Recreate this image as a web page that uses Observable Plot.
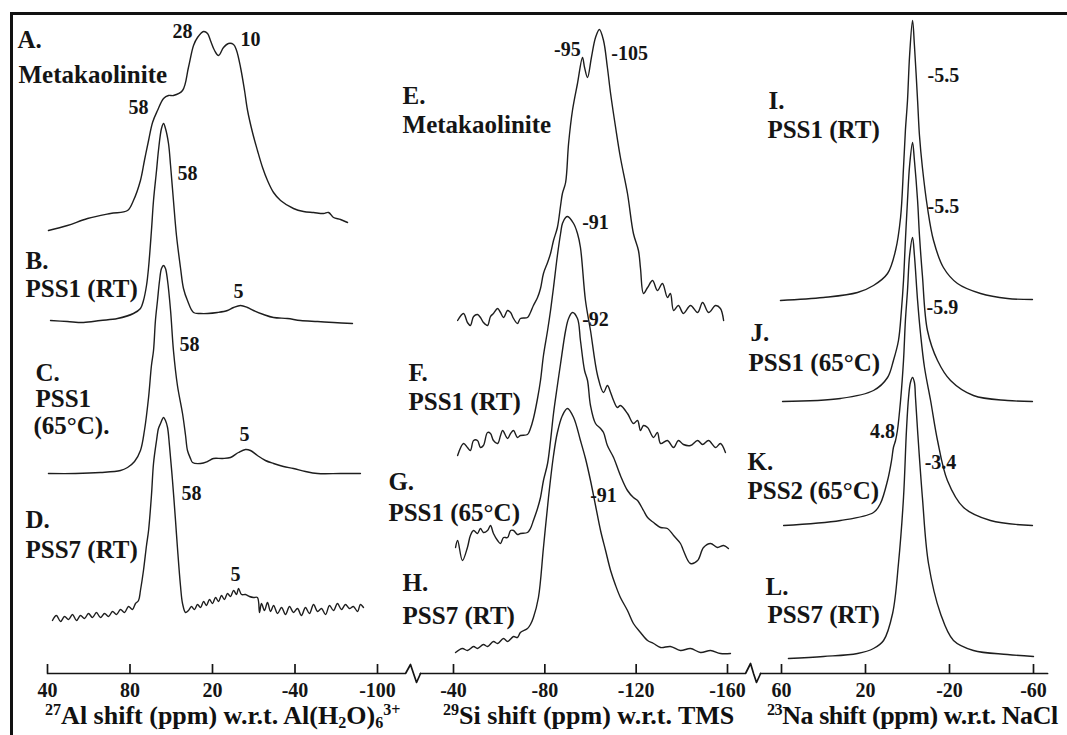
<!DOCTYPE html>
<html><head><meta charset="utf-8">
<script src="https://cdn.jsdelivr.net/npm/d3@7"></script>
<script src="https://cdn.jsdelivr.net/npm/@observablehq/plot@0.6"></script>
<style>
body{margin:0;background:#fff}
#wrap{position:relative;width:1067px;height:735px;overflow:hidden;background:#fff}
#wrap svg{position:absolute;left:0;top:0}
.frame{position:absolute;left:10px;top:12px;width:1070px;height:740px;border-top:3px solid #111;border-left:3px solid #111}
.ttl{position:absolute;font:bold 26px "Liberation Serif",serif;color:#111;white-space:nowrap;line-height:30px}
.ttl sup{font-size:62%;line-height:0;vertical-align:0.55em}
.ttl sub{font-size:62%;line-height:0;vertical-align:-0.22em}
</style></head><body><div id="wrap"></div>
<script>
// ---- tick values and labels (as printed) ----
const alTicks = [140, 80, 20, -40, -100];
const alTickLabels = ["40", "80", "20", "-40", "-100"];
const siTicks = [-40, -80, -120, -160];
const siTickLabels = ["-40", "-80", "-120", "-160"];
const naTicks = [60, 20, -20, -60];
const naTickLabels = ["60", "20", "-20", "-60"];

// ---- 27Al spectra: [ppm, intensity above own baseline] ----
const alA = [[139.3,0],[125.5,5],[110.9,12],[94.2,17],[81.8,20],[77.5,30],[72.4,50],[69.5,70],[66.5,90],[63.6,108],[60.0,120],[55.6,132],[52.0,135],[48.4,135],[41.8,140],[37.5,163],[33.8,185],[30.9,193],[26.5,199],[23.6,197],[21.5,190],[18.5,180],[15.6,175],[12.0,183],[8.4,187],[4.7,186],[2.5,180],[-0.4,163],[-3.3,140],[-5.5,120],[-9.1,98],[-12.7,80],[-16.4,63],[-20.0,50],[-24.4,38],[-29.5,30],[-38.9,22],[-46.2,19],[-53.5,18],[-60.7,17],[-64.4,18],[-68.0,13],[-73.1,11],[-78.2,8]];
const alB = [[137.8,0],[125.5,-1],[113.8,-2],[101.5,0],[89.1,2],[77.5,7],[72.4,12],[70.2,20],[68.0,35],[66.5,53],[64.4,90],[62.9,120],[60.7,150],[59.3,170],[57.1,192],[55.6,197],[54.2,192],[52.0,177],[50.5,155],[48.4,120],[46.2,85],[43.3,53],[41.1,32],[38.2,20],[33.8,8],[28.7,7],[23.6,7],[16.4,8],[9.1,10],[4.7,13],[-0.4,15],[-5.5,13],[-9.8,10],[-17.1,6],[-24.4,3],[-34.5,2],[-44.0,0],[-56.4,-1],[-68.0,-2],[-81.8,-3]];
const alC = [[139.3,0],[119.6,0],[101.5,1],[86.9,3],[81.8,6],[76.7,12],[72.4,23],[69.5,43],[66.5,76],[64.4,108],[62.9,123],[61.5,153],[60.0,173],[58.5,193],[57.1,205],[55.6,208],[54.2,205],[52.7,193],[50.5,163],[48.4,123],[45.5,88],[41.8,60],[39.6,38],[38.2,23],[36.0,15],[34.5,11],[28.7,10],[23.6,12],[19.3,15],[12.7,15],[6.9,16],[1.1,21],[-4.0,24],[-7.6,23],[-12.7,18],[-18.5,13],[-24.4,10],[-31.6,7],[-38.9,5],[-47.6,2],[-56.4,0],[-73.1,0],[-87.6,0]];
const alD = [[136.4,-3],[133.5,2],[130.5,-4],[127.6,1],[124.7,-2],[121.8,3],[118.9,-3],[116.0,2],[113.1,-1],[110.2,4],[107.3,0],[104.4,5],[101.5,0],[98.5,4],[95.6,1],[92.7,6],[89.8,3],[86.9,8],[84.0,5],[81.1,11],[78.2,8],[76.0,14],[73.8,17],[72.4,27],[70.2,47],[68.0,72],[66.5,87],[64.4,122],[62.9,154],[60.7,177],[59.3,189],[57.8,194],[55.6,200],[54.2,197],[52.7,190],[51.3,172],[49.1,137],[46.9,97],[45.5,70],[43.3,32],[41.8,14],[39.6,5],[37.5,7],[35.3,11],[33.1,8],[30.9,13],[28.7,10],[26.5,16],[24.4,12],[22.2,18],[20.0,14],[17.8,20],[15.6,16],[13.5,22],[11.3,18],[9.1,24],[6.9,21],[4.7,27],[2.5,23],[1.1,29],[-1.1,23],[-4.0,23],[-6.9,21],[-9.8,20],[-12.7,20],[-14.2,5],[-15.6,14],[-17.8,7],[-20.0,15],[-22.2,6],[-24.4,12],[-27.3,4],[-30.2,10],[-33.1,3],[-36.0,11],[-38.9,5],[-41.8,9],[-44.7,2],[-47.6,10],[-50.5,4],[-53.5,13],[-56.4,6],[-59.3,9],[-62.2,3],[-65.1,12],[-68.0,7],[-70.9,14],[-73.8,8],[-76.7,13],[-79.6,9],[-82.5,11],[-85.5,6],[-87.6,13],[-89.8,10]];

// ---- 29Si spectra ----
const siE = [[-41.8,0],[-44.4,7],[-46.1,-2],[-47.4,-5],[-48.8,4],[-50.5,6],[-51.8,3],[-53.1,-2],[-54.9,-5],[-56.2,4],[-57.5,7],[-59.3,12],[-60.6,8],[-61.9,3],[-63.7,10],[-65.0,8],[-66.3,2],[-68.0,-3],[-69.3,2],[-72.4,3],[-73.7,8],[-75.0,15],[-76.8,23],[-78.1,32],[-79.4,47],[-81.2,58],[-82.5,67],[-83.8,80],[-85.5,93],[-86.9,115],[-87.7,127],[-89.1,138],[-90.4,177],[-92.1,210],[-94.3,237],[-96.5,263],[-97.4,253],[-98.7,243],[-100.4,263],[-102.2,283],[-103.9,291],[-105.7,280],[-107.4,253],[-108.8,227],[-111.0,193],[-113.1,163],[-116.2,127],[-118.8,87],[-121.0,70],[-121.9,52],[-123.2,27],[-125.0,33],[-127.2,40],[-129.3,30],[-131.5,37],[-133.7,23],[-135.0,27],[-136.4,10],[-138.5,15],[-140.7,7],[-143.8,15],[-146.9,8],[-149.1,18],[-151.7,8],[-154.8,15],[-156.9,12],[-158.3,0]];
const siF = [[-41.8,-10],[-44.4,2],[-46.1,-2],[-47.4,-5],[-48.8,5],[-50.5,5],[-51.8,-2],[-53.1,0],[-54.9,13],[-56.2,12],[-57.5,5],[-59.3,2],[-60.6,10],[-61.5,15],[-63.7,7],[-65.0,12],[-66.3,15],[-68.0,8],[-69.3,10],[-72.4,11],[-73.7,17],[-75.0,27],[-76.8,47],[-78.1,65],[-79.4,90],[-81.2,115],[-82.5,135],[-83.8,158],[-85.5,190],[-86.9,212],[-87.7,222],[-89.1,228],[-89.9,229],[-92.6,222],[-94.3,212],[-95.6,198],[-97.8,145],[-100.0,115],[-103.1,70],[-105.7,53],[-107.4,60],[-108.8,53],[-110.1,45],[-111.8,38],[-113.1,40],[-116.2,32],[-118.8,22],[-120.6,25],[-121.9,15],[-123.2,20],[-125.0,18],[-127.6,8],[-129.3,13],[-130.7,2],[-133.7,5],[-136.4,-2],[-138.5,5],[-140.7,1],[-143.8,0],[-146.9,5],[-149.1,1],[-151.7,5],[-154.8,-2],[-156.9,2],[-159.1,-7]];
const siG = [[-40.9,-10],[-41.8,-3],[-43.9,-23],[-46.1,-10],[-47.4,2],[-48.8,7],[-50.5,4],[-51.8,9],[-53.1,5],[-54.9,7],[-56.2,12],[-57.5,4],[-59.3,-3],[-60.6,-6],[-61.9,0],[-63.7,0],[-65.0,7],[-66.3,7],[-68.0,3],[-69.3,4],[-72.4,5],[-73.7,9],[-75.0,17],[-76.8,29],[-78.1,40],[-79.4,57],[-81.2,74],[-82.5,97],[-83.8,124],[-85.5,152],[-86.9,174],[-89.1,207],[-90.4,219],[-92.1,225],[-94.3,219],[-95.6,197],[-97.4,167],[-98.7,157],[-100.0,132],[-102.2,114],[-104.4,109],[-105.7,105],[-107.4,92],[-110.1,80],[-113.1,62],[-116.2,47],[-118.8,40],[-120.6,37],[-123.2,27],[-125.0,20],[-127.6,15],[-130.7,10],[-133.7,9],[-136.4,2],[-139.4,-6],[-140.7,-13],[-143.8,-26],[-146.9,-23],[-149.5,-10],[-152.6,-6],[-155.6,-10],[-158.3,-8],[-160.4,-11]];
const siH = [[-40.9,-2],[-43.9,2],[-46.1,0],[-48.8,4],[-50.5,2],[-53.1,6],[-54.9,4],[-57.5,9],[-59.3,7],[-61.9,12],[-63.7,9],[-66.3,14],[-68.0,13],[-69.3,18],[-72.4,22],[-73.7,26],[-75.0,33],[-77.2,53],[-79.4,103],[-81.6,153],[-83.8,195],[-85.5,218],[-87.7,235],[-89.9,242],[-92.6,233],[-95.6,210],[-97.8,192],[-100.0,170],[-102.2,145],[-104.4,120],[-106.6,100],[-108.8,80],[-111.0,65],[-113.1,53],[-116.2,40],[-118.8,27],[-121.9,18],[-125.0,10],[-127.6,7],[-130.7,3],[-135.0,4],[-139.4,0],[-143.8,2],[-148.2,-2],[-152.6,0],[-156.9,-3],[-161.3,-3]];

// ---- 23Na spectra ----
const naI = [[60.5,0],[40.0,3],[23.8,8],[16.2,15],[9.5,27],[5.7,50],[3.3,83],[1.9,133],[1.0,170],[0.0,200],[-1.0,245],[-2.4,280],[-3.3,255],[-4.8,200],[-5.7,165],[-7.1,133],[-9.5,93],[-12.4,60],[-17.1,33],[-23.8,17],[-34.8,7],[-47.6,2],[-59.5,1]];
const naJ = [[59.5,0],[31.9,3],[16.2,11],[9.5,24],[6.7,41],[4.3,61],[2.9,91],[1.9,121],[1.0,161],[0.0,201],[-1.0,236],[-2.4,259],[-3.3,241],[-4.8,201],[-5.7,166],[-7.1,126],[-9.5,71],[-14.3,41],[-20.5,21],[-31.4,6],[-47.6,1],[-59.5,0]];
const naK = [[59.0,0],[31.9,5],[16.2,13],[12.9,22],[9.5,45],[7.6,65],[6.7,78],[5.7,85],[4.8,95],[3.3,125],[1.9,165],[1.0,205],[0.0,235],[-1.0,270],[-2.4,288],[-3.3,270],[-4.8,225],[-6.2,192],[-8.1,158],[-11.0,125],[-14.3,85],[-19.0,45],[-26.7,18],[-39.5,5],[-59.5,0]];
const naL = [[56.7,-2],[40.0,0],[23.8,3],[16.2,8],[11.4,16],[7.1,43],[4.3,93],[1.9,159],[0.5,226],[-0.5,259],[-1.4,274],[-2.4,279],[-3.3,274],[-3.8,259],[-4.8,226],[-7.1,159],[-10.0,93],[-15.7,43],[-21.9,16],[-31.4,6],[-47.6,2],[-60.0,0]];

// ---- stacking: baseline level of each trace ----
const alSeries = [{id:"A", base:443, pts:alA},{id:"B", base:353, pts:alB},{id:"C", base:200, pts:alC},{id:"D", base:56, pts:alD}];
const siSeries = [{id:"E", base:353, pts:siE},{id:"F", base:228, pts:siF},{id:"G", base:136, pts:siG},{id:"H", base:23, pts:siH}];
const naSeries = [{id:"I", base:373, pts:naI},{id:"J", base:272, pts:naJ},{id:"K", base:148, pts:naK},{id:"L", base:17, pts:naL}];

// ---- annotations ----
const alNames = [
  {t:"A.", x:161.8, y:634},{t:"Metakaolinite", x:161.1, y:599},
  {t:"B.", x:156.0, y:413},{t:"PSS1 (RT)", x:156.0, y:385},
  {t:"C.", x:148.7, y:301},{t:"PSS1", x:148.7, y:275},{t:"(65°C).", x:150.2, y:248},
  {t:"D.", x:156.0, y:154},{t:"PSS7 (RT)", x:156.0, y:124}
];
const alPeaks = [
  {t:"28", x:41.8, y:642},{t:"10", x:-7.6, y:634},{t:"58", x:73.8, y:566},
  {t:"58", x:38.2, y:500},{t:"5", x:1.1, y:382},{t:"58", x:36.7, y:329},
  {t:"5", x:-3.3, y:239},{t:"58", x:35.3, y:180},{t:"5", x:3.3, y:99}
];
const siNames = [
  {t:"E.", x:-17.7, y:578},{t:"Metakaolinite", x:-17.7, y:549},
  {t:"F.", x:-20.3, y:301},{t:"PSS1 (RT)", x:-20.3, y:272},
  {t:"G.", x:-11.5, y:192},{t:"PSS1 (65°C)", x:-11.5, y:161},
  {t:"H.", x:-17.7, y:91},{t:"PSS7 (RT)", x:-17.7, y:58}
];
const siPeaks = [
  {t:"-95", x:-89.9, y:624},{t:"-105", x:-117.1, y:620},{t:"-91", x:-102.2, y:451},
  {t:"-92", x:-102.2, y:354},{t:"-91", x:-105.7, y:178}
];
const naNames = [
  {t:"I.", x:66.2, y:573},{t:"PSS1 (RT)", x:66.7, y:544},
  {t:"J.", x:74.8, y:341},{t:"PSS1 (65°C)", x:75.7, y:311},
  {t:"K.", x:76.2, y:212},{t:"PSS2 (65°C)", x:76.2, y:183},
  {t:"L.", x:67.6, y:87},{t:"PSS7 (RT)", x:66.7, y:59}
];
const naPeaks = [
  {t:"-5.5", x:-17.1, y:598},{t:"-5.5", x:-17.1, y:467},{t:"-5.9", x:-16.6, y:366},
  {t:"4.8", x:11.9, y:242},{t:"-3.4", x:-15.7, y:211}
];

// axis baseline with break symbols
const alAxis = [[140,0],[-120.4,0],[-124.0,9],[-126.2,0],[-128.4,-9],[-131.3,0]];
const siAxis = [[-25.5,0],[-167.9,0],[-170.1,10],[-171.4,0],[-172.7,-9],[-174.5,0]];
const naAxis = [[70,0],[-66.7,0]];

const FONT = "'Liberation Serif', 'Times New Roman', serif";
const INK = "#151515";

function panel(cfg) {
  return Plot.plot({
    width: 1067, height: 735,
    marginLeft: cfg.ml, marginRight: cfg.mr, marginTop: 13, marginBottom: 62,
    x: {domain: cfg.domain},
    y: {domain: [0, 660], axis: null},
    style: {background: "transparent", fontFamily: FONT, color: INK, overflow: "visible"},
    marks: [
      ...cfg.series.map(s => Plot.line(s.pts, {x: d => d[0], y: d => d[1] + s.base, stroke: "#1e1e1e", strokeWidth: 1.4, curve: "catmull-rom"})),
      Plot.line(cfg.axisPath, {x: d => d[0], y: d => d[1], stroke: INK, strokeWidth: 1.7}),
      Plot.ruleX(cfg.ticks, {x: d => d, y1: 0, y2: 9, stroke: INK, strokeWidth: 1.7}),
      Plot.axisX({anchor: "bottom", ticks: cfg.ticks, tickFormat: d => cfg.tickLabels[cfg.ticks.indexOf(d)], tickSize: 0, tickPadding: 9, fontSize: 20, fontWeight: "bold", fontFamily: FONT, label: null}),
      Plot.text(cfg.names, {x: "x", y: "y", text: "t", textAnchor: "start", fontSize: 25, fontWeight: "bold", fontFamily: FONT, fill: INK}),
      Plot.text(cfg.peaks, {x: "x", y: "y", text: "t", textAnchor: "middle", fontSize: 20, fontWeight: "bold", fontFamily: FONT, fill: INK})
    ]
  });
}

const wrap = document.getElementById("wrap");
const frame = document.createElement("div"); frame.className = "frame"; wrap.appendChild(frame);
wrap.appendChild(panel({ml: 47, mr: 690, domain: [140, -100], series: alSeries, axisPath: alAxis, ticks: alTicks, tickLabels: alTickLabels, names: alNames, peaks: alPeaks}));
wrap.appendChild(panel({ml: 453, mr: 340, domain: [-40, -160], series: siSeries, axisPath: siAxis, ticks: siTicks, tickLabels: siTickLabels, names: siNames, peaks: siPeaks}));
wrap.appendChild(panel({ml: 781, mr: 34, domain: [60, -60], series: naSeries, axisPath: naAxis, ticks: naTicks, tickLabels: naTickLabels, names: naNames, peaks: naPeaks}));

const titles = [
  {left: 45, html: "<sup>27</sup>Al shift (ppm) w.r.t. Al(H<sub>2</sub>O)<sub>6</sub><sup>3+</sup>", ls: 0},
  {left: 443, html: "<sup>29</sup>Si shift (ppm) w.r.t. TMS", ls: 0},
  {left: 767, html: "<sup>23</sup>Na shift (ppm) w.r.t. NaCl", ls: -0.45}
];
for (const t of titles) {
  const d = document.createElement("div");
  d.className = "ttl"; d.style.left = t.left + "px"; d.style.top = "701px";
  d.style.letterSpacing = t.ls + "px"; d.innerHTML = t.html;
  wrap.appendChild(d);
}
</script></body></html>
